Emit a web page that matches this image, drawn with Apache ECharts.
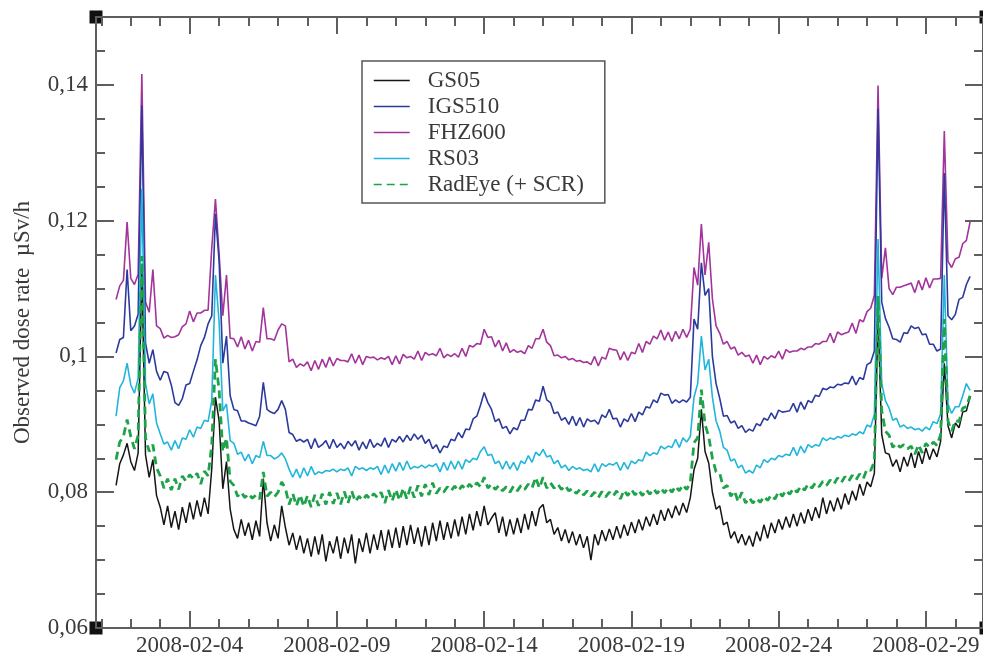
<!DOCTYPE html>
<html>
<head>
<meta charset="utf-8">
<script src="https://cdn.jsdelivr.net/npm/echarts@6/dist/echarts.min.js"></script>
<style>
html,body{margin:0;padding:0;background:#ffffff;}
#chart{width:983px;height:657px;}
</style>
</head>
<body>
<div id="chart"></div>
<script>
// ---- data (observed dose rate, µSv/h), one reading every 3 hours ----
const firstReading = '2008-02-01T12:00:00Z';
const stepHours = 3;
const axisOrigin = '2008-02-01T00:00:00Z';

const seriesNames = ['GS05', 'IGS510', 'FHZ600', 'RS03', 'RadEye (+ SCR)'];

const gs05 = [
  0.0810, 0.0842, 0.0855, 0.0872,
  0.0845, 0.0832, 0.0858, 0.1130, 0.0855, 0.0822, 0.0848, 0.0795,
  0.0778, 0.0752, 0.0780, 0.0748, 0.0772, 0.0745, 0.0778, 0.0755,
  0.0785, 0.0760, 0.0788, 0.0764, 0.0792, 0.0768, 0.0835, 0.0940,
  0.0905, 0.0805, 0.0845, 0.0775, 0.0745, 0.0732, 0.0760, 0.0736,
  0.0755, 0.0730, 0.0758, 0.0735, 0.0820, 0.0755, 0.0728, 0.0752,
  0.0732, 0.0780, 0.0748, 0.0722, 0.0740, 0.0715, 0.0736, 0.0710,
  0.0732, 0.0705, 0.0735, 0.0708, 0.0738, 0.0698, 0.0728, 0.0710,
  0.0735, 0.0702, 0.0733, 0.0710, 0.0738, 0.0695, 0.0732, 0.0712,
  0.0740, 0.0710, 0.0738, 0.0715, 0.0744, 0.0714, 0.0745, 0.0718,
  0.0748, 0.0718, 0.0750, 0.0722, 0.0752, 0.0724, 0.0748, 0.0720,
  0.0750, 0.0722, 0.0755, 0.0728, 0.0758, 0.0730, 0.0756, 0.0732,
  0.0760, 0.0735, 0.0764, 0.0738, 0.0768, 0.0744, 0.0772, 0.0750,
  0.0780, 0.0752, 0.0762, 0.0770, 0.0740, 0.0764, 0.0735, 0.0760,
  0.0738, 0.0762, 0.0740, 0.0768, 0.0745, 0.0772, 0.0750, 0.0776,
  0.0782, 0.0755, 0.0760, 0.0738, 0.0748, 0.0728, 0.0745, 0.0725,
  0.0742, 0.0722, 0.0738, 0.0718, 0.0735, 0.0700, 0.0738, 0.0722,
  0.0744, 0.0728, 0.0746, 0.0730, 0.0750, 0.0732, 0.0752, 0.0736,
  0.0756, 0.0740, 0.0760, 0.0744, 0.0764, 0.0750, 0.0768, 0.0752,
  0.0774, 0.0758, 0.0776, 0.0762, 0.0780, 0.0766, 0.0784, 0.0770,
  0.0792, 0.0833, 0.0850, 0.0922, 0.0860, 0.0843, 0.0800, 0.0775,
  0.0780, 0.0752, 0.0756, 0.0732, 0.0742, 0.0725, 0.0738, 0.0722,
  0.0736, 0.0720, 0.0742, 0.0728, 0.0752, 0.0732, 0.0755, 0.0740,
  0.0760, 0.0745, 0.0764, 0.0748, 0.0768, 0.0750, 0.0770, 0.0754,
  0.0775, 0.0758, 0.0778, 0.0762, 0.0792, 0.0768, 0.0788, 0.0772,
  0.0792, 0.0775, 0.0798, 0.0782, 0.0802, 0.0788, 0.0812, 0.0795,
  0.0815, 0.0808, 0.0828, 0.1060, 0.0885, 0.0858, 0.0856, 0.0838,
  0.0848, 0.0830, 0.0852, 0.0838, 0.0858, 0.0836, 0.0860, 0.0842,
  0.0865, 0.0848, 0.0864, 0.0852, 0.0875, 0.0990, 0.0898, 0.0880,
  0.0902, 0.0895, 0.0918, 0.0920, 0.0940
];

const igs510 = [
  0.1005, 0.1025, 0.1028, 0.1128,
  0.1038, 0.1045, 0.1062, 0.1370, 0.1020, 0.0990, 0.1010, 0.0978,
  0.0965, 0.0978, 0.0976, 0.0958, 0.0932, 0.0928, 0.0938, 0.0958,
  0.0960, 0.0978, 0.0995, 0.1016, 0.1028, 0.1048, 0.1060, 0.1210,
  0.1140, 0.0990, 0.1030, 0.0942, 0.0922, 0.0920, 0.0905, 0.0905,
  0.0902, 0.0900, 0.0898, 0.0912, 0.0962, 0.0922, 0.0918, 0.0916,
  0.0922, 0.0935, 0.0922, 0.0888, 0.0885, 0.0875, 0.0878, 0.0874,
  0.0878, 0.0864, 0.0879, 0.0866, 0.0870, 0.0876, 0.0864, 0.0878,
  0.0866, 0.0872, 0.0864, 0.0875, 0.0868, 0.0876, 0.0862, 0.0874,
  0.0864, 0.0878, 0.0866, 0.0872, 0.0868, 0.0880, 0.0866, 0.0878,
  0.0874, 0.0882, 0.0874, 0.0884, 0.0876, 0.0886, 0.0878, 0.0884,
  0.0872, 0.0878, 0.0864, 0.0870, 0.0858, 0.0868, 0.0866, 0.0878,
  0.0876, 0.0888, 0.0880, 0.0893, 0.0892, 0.0908, 0.0912, 0.0928,
  0.0947, 0.0932, 0.0922, 0.0904, 0.0908, 0.0894, 0.0897, 0.0886,
  0.0895, 0.0892, 0.0906, 0.0906, 0.0922, 0.0921, 0.0936, 0.0934,
  0.0956, 0.0936, 0.0932, 0.0916, 0.0918, 0.0906, 0.0910, 0.0900,
  0.0912, 0.0898, 0.0910, 0.0896, 0.0908, 0.0904, 0.0906, 0.0900,
  0.0914, 0.0910, 0.0922, 0.0908, 0.0909, 0.0896, 0.0908, 0.0904,
  0.0916, 0.0904, 0.0918, 0.0914, 0.0926, 0.0924, 0.0936, 0.0932,
  0.0946, 0.0943, 0.0944, 0.0931, 0.0936, 0.0932, 0.0936, 0.0933,
  0.0940, 0.1055, 0.1040, 0.1138, 0.1090, 0.1100, 0.1000, 0.0960,
  0.0938, 0.0912, 0.0913, 0.0902, 0.0905, 0.0894, 0.0898, 0.0888,
  0.0893, 0.0890, 0.0901, 0.0898, 0.0909, 0.0906, 0.0917, 0.0908,
  0.0921, 0.0918, 0.0919, 0.0920, 0.0931, 0.0918, 0.0933, 0.0922,
  0.0935, 0.0932, 0.0943, 0.0941, 0.0953, 0.0951, 0.0955, 0.0954,
  0.0959, 0.0958, 0.0961, 0.0960, 0.0971, 0.0958, 0.0969, 0.0966,
  0.0988, 0.0991, 0.1008, 0.1365, 0.1080, 0.1056, 0.1043, 0.1026,
  0.1025, 0.1021, 0.1035, 0.1034, 0.1045, 0.1041, 0.1043, 0.1032,
  0.1033, 0.1018, 0.1018, 0.1008, 0.1011, 0.1270, 0.1060, 0.1054,
  0.1062, 0.1084, 0.1087, 0.1106, 0.1118
];

const fhz600 = [
  0.1084, 0.1104, 0.1112, 0.1198,
  0.1115, 0.1106, 0.1121, 0.1416, 0.1080, 0.1065, 0.1128, 0.1045,
  0.1041, 0.1027, 0.1031, 0.1028, 0.1029, 0.1032, 0.1044, 0.1048,
  0.1067, 0.1051, 0.1064, 0.1064, 0.1068, 0.1068, 0.1160, 0.1232,
  0.1150, 0.1060, 0.1120, 0.1027, 0.1026, 0.1014, 0.1029, 0.1011,
  0.1024, 0.1008, 0.1022, 0.1021, 0.1072, 0.1026, 0.1026, 0.1024,
  0.1039, 0.1048, 0.1045, 0.0992, 0.0996, 0.0984, 0.0989, 0.0986,
  0.0992, 0.0979, 0.0994, 0.0981, 0.0996, 0.0984, 0.0999, 0.0986,
  0.0997, 0.0994, 0.0994, 0.0992, 0.1004, 0.0990, 0.1002, 0.0988,
  0.1000, 0.0998, 0.0999, 0.0995, 0.0998, 0.0996, 0.1000, 0.0988,
  0.1001, 0.0989, 0.1003, 0.0998, 0.1000, 0.0996, 0.1008, 0.0994,
  0.1006, 0.1002, 0.1004, 0.1001, 0.1012, 0.0998, 0.1003, 0.1000,
  0.1004, 0.0999, 0.1012, 0.1000, 0.1016, 0.1014, 0.1019, 0.1018,
  0.1040, 0.1028, 0.1029, 0.1014, 0.1024, 0.1008, 0.1020, 0.1006,
  0.1010, 0.1006, 0.1008, 0.1004, 0.1016, 0.1012, 0.1026, 0.1026,
  0.1040, 0.1021, 0.1016, 0.1001, 0.1002, 0.0998, 0.1000, 0.0995,
  0.0997, 0.0993, 0.0994, 0.0991, 0.0992, 0.0988, 0.1000, 0.0986,
  0.0999, 0.0996, 0.1012, 0.1010, 0.1009, 0.0995, 0.1007, 0.0994,
  0.1006, 0.1004, 0.1019, 0.1006, 0.1022, 0.1018, 0.1030, 0.1026,
  0.1039, 0.1024, 0.1036, 0.1022, 0.1037, 0.1026, 0.1040, 0.1028,
  0.1040, 0.1131, 0.1105, 0.1195, 0.1120, 0.1168, 0.1085, 0.1045,
  0.1034, 0.1018, 0.1022, 0.1011, 0.1014, 0.1002, 0.1006, 0.1000,
  0.1002, 0.0990, 0.1002, 0.0988, 0.1000, 0.0996, 0.1001, 0.0998,
  0.1008, 0.0996, 0.1010, 0.1006, 0.1008, 0.1008, 0.1012, 0.1010,
  0.1014, 0.1014, 0.1019, 0.1018, 0.1022, 0.1022, 0.1034, 0.1020,
  0.1036, 0.1032, 0.1034, 0.1036, 0.1049, 0.1034, 0.1054, 0.1051,
  0.1066, 0.1071, 0.1090, 0.1399, 0.1115, 0.1160, 0.1100, 0.1091,
  0.1102, 0.1102, 0.1104, 0.1106, 0.1108, 0.1094, 0.1112, 0.1098,
  0.1116, 0.1101, 0.1114, 0.1114, 0.1115, 0.1332, 0.1140, 0.1131,
  0.1144, 0.1146, 0.1166, 0.1171, 0.1198
];

const rs03 = [
  0.0912, 0.0954, 0.0964, 0.0990,
  0.0958, 0.0946, 0.0968, 0.1247, 0.0960, 0.0930, 0.0945, 0.0902,
  0.0886, 0.0871, 0.0874, 0.0862, 0.0876, 0.0864, 0.0880, 0.0878,
  0.0892, 0.0881, 0.0896, 0.0894, 0.0906, 0.0904, 0.0935, 0.1120,
  0.1050, 0.0920, 0.0930, 0.0876, 0.0872, 0.0856, 0.0859, 0.0846,
  0.0856, 0.0842, 0.0854, 0.0851, 0.0875, 0.0854, 0.0854, 0.0849,
  0.0852, 0.0858, 0.0849, 0.0834, 0.0822, 0.0834, 0.0821, 0.0836,
  0.0824, 0.0838, 0.0826, 0.0830, 0.0828, 0.0832, 0.0831, 0.0834,
  0.0830, 0.0834, 0.0832, 0.0836, 0.0824, 0.0838, 0.0834, 0.0836,
  0.0832, 0.0836, 0.0834, 0.0838, 0.0826, 0.0840, 0.0828, 0.0842,
  0.0831, 0.0844, 0.0832, 0.0846, 0.0834, 0.0838, 0.0836, 0.0840,
  0.0836, 0.0840, 0.0838, 0.0842, 0.0830, 0.0844, 0.0832, 0.0846,
  0.0834, 0.0846, 0.0834, 0.0848, 0.0844, 0.0850, 0.0848, 0.0860,
  0.0867, 0.0854, 0.0856, 0.0842, 0.0846, 0.0834, 0.0846, 0.0834,
  0.0844, 0.0832, 0.0846, 0.0842, 0.0854, 0.0844, 0.0859, 0.0854,
  0.0863, 0.0852, 0.0854, 0.0842, 0.0847, 0.0836, 0.0840, 0.0832,
  0.0838, 0.0834, 0.0836, 0.0832, 0.0834, 0.0830, 0.0842, 0.0830,
  0.0842, 0.0838, 0.0842, 0.0840, 0.0844, 0.0832, 0.0844, 0.0834,
  0.0846, 0.0842, 0.0848, 0.0846, 0.0859, 0.0854, 0.0858, 0.0856,
  0.0868, 0.0864, 0.0868, 0.0866, 0.0878, 0.0866, 0.0880, 0.0874,
  0.0882, 0.0940, 0.0960, 0.1030, 0.0980, 0.0996, 0.0940, 0.0905,
  0.0890, 0.0866, 0.0862, 0.0846, 0.0849, 0.0836, 0.0840, 0.0828,
  0.0832, 0.0828, 0.0840, 0.0836, 0.0848, 0.0844, 0.0850, 0.0848,
  0.0854, 0.0852, 0.0856, 0.0854, 0.0866, 0.0854, 0.0868, 0.0858,
  0.0870, 0.0866, 0.0870, 0.0868, 0.0880, 0.0876, 0.0880, 0.0878,
  0.0882, 0.0880, 0.0884, 0.0882, 0.0886, 0.0884, 0.0889, 0.0886,
  0.0899, 0.0896, 0.0915, 0.1173, 0.0960, 0.0935, 0.0924, 0.0906,
  0.0909, 0.0896, 0.0899, 0.0894, 0.0896, 0.0892, 0.0894, 0.0890,
  0.0896, 0.0892, 0.0904, 0.0901, 0.0915, 0.1120, 0.0930, 0.0916,
  0.0926, 0.0926, 0.0942, 0.0960, 0.0950
];

const radEye = [
  0.0848, 0.0874, 0.0882, 0.0907,
  0.0882, 0.0864, 0.0884, 0.1148, 0.0880, 0.0860, 0.0870, 0.0836,
  0.0824, 0.0806, 0.0820, 0.0803, 0.0820, 0.0804, 0.0824, 0.0816,
  0.0826, 0.0820, 0.0828, 0.0812, 0.0831, 0.0824, 0.0870, 0.0996,
  0.0950, 0.0860, 0.0880, 0.0816, 0.0810, 0.0794, 0.0800, 0.0792,
  0.0798, 0.0791, 0.0796, 0.0790, 0.0830, 0.0794, 0.0800, 0.0793,
  0.0800, 0.0815, 0.0806, 0.0782, 0.0798, 0.0780, 0.0796, 0.0779,
  0.0795, 0.0778, 0.0796, 0.0780, 0.0798, 0.0782, 0.0800, 0.0783,
  0.0799, 0.0782, 0.0801, 0.0784, 0.0802, 0.0786, 0.0794, 0.0788,
  0.0796, 0.0790, 0.0798, 0.0792, 0.0800, 0.0784, 0.0803, 0.0787,
  0.0804, 0.0788, 0.0806, 0.0790, 0.0808, 0.0792, 0.0810, 0.0794,
  0.0812, 0.0796, 0.0814, 0.0798, 0.0806, 0.0800, 0.0808, 0.0802,
  0.0809, 0.0802, 0.0810, 0.0804, 0.0812, 0.0806, 0.0814, 0.0808,
  0.0822, 0.0806, 0.0812, 0.0804, 0.0810, 0.0802, 0.0808, 0.0800,
  0.0809, 0.0802, 0.0810, 0.0804, 0.0812, 0.0806, 0.0822, 0.0806,
  0.0822, 0.0806, 0.0814, 0.0806, 0.0812, 0.0804, 0.0810, 0.0802,
  0.0806, 0.0798, 0.0804, 0.0796, 0.0802, 0.0794, 0.0800, 0.0792,
  0.0801, 0.0793, 0.0800, 0.0794, 0.0802, 0.0790, 0.0803, 0.0795,
  0.0804, 0.0796, 0.0803, 0.0795, 0.0804, 0.0797, 0.0805, 0.0798,
  0.0806, 0.0799, 0.0807, 0.0800, 0.0809, 0.0802, 0.0811, 0.0804,
  0.0814, 0.0873, 0.0880, 0.0951, 0.0900, 0.0882, 0.0850, 0.0830,
  0.0828, 0.0806, 0.0810, 0.0794, 0.0802, 0.0786, 0.0800, 0.0784,
  0.0792, 0.0784, 0.0791, 0.0785, 0.0794, 0.0788, 0.0796, 0.0790,
  0.0801, 0.0794, 0.0803, 0.0797, 0.0806, 0.0800, 0.0809, 0.0803,
  0.0812, 0.0806, 0.0814, 0.0808, 0.0816, 0.0810, 0.0818, 0.0812,
  0.0821, 0.0814, 0.0823, 0.0816, 0.0825, 0.0818, 0.0827, 0.0820,
  0.0834, 0.0832, 0.0845, 0.1089, 0.0920, 0.0890, 0.0884, 0.0866,
  0.0872, 0.0866, 0.0870, 0.0864, 0.0868, 0.0856, 0.0870, 0.0858,
  0.0872, 0.0866, 0.0874, 0.0869, 0.0885, 0.1055, 0.0905, 0.0890,
  0.0906, 0.0904, 0.0924, 0.0926, 0.0942
];

// ---- axis ticks ----
const xTickLabels = ['2008-02-04', '2008-02-09', '2008-02-14', '2008-02-19', '2008-02-24', '2008-02-29'];
const yTickValues = [0.06, 0.08, 0.1, 0.12, 0.14];
const yTickLabels = ['0,06', '0,08', '0,1', '0,12', '0,14'];
const yMinorTickValues = [0.065, 0.07, 0.075, 0.085, 0.09, 0.095, 0.105, 0.11, 0.115, 0.125, 0.13, 0.135, 0.145];
const yName = 'Observed dose rate  \u00b5Sv/h';

// ---- layout / style ----
const gridLeft = 96, gridTop = 17, gridWidth = 890, gridHeight = 611;
const xMin = -0.1814, xMax = 29.939;   // days since 2008-02-01
const yMin = 0.06, yMax = 0.15;
const colors = ['#151515', '#2c3a9c', '#a2349c', '#22b5dc', '#1fa34a'];
const serif = 'Liberation Serif, Times New Roman, serif';
const axisColor = '#5e5e5e';
const textColor = '#3a3a3a';

const DAY = 86400000;
const origin = Date.parse(axisOrigin);
const x0 = (Date.parse(firstReading) - origin) / DAY;
const toPoints = vals => vals.map((v, i) => [x0 + i * stepHours / 24, v]);
const dayOf = s => (Date.parse(s + 'T00:00:00Z') - origin) / DAY;
const xMajor = xTickLabels.map(dayOf);
const xMinor = [];
for (let d = Math.ceil(xMin); d <= Math.floor(xMax); d++) xMinor.push(d);

function nearestLabel(values, labels, v) {
  let best = 0;
  for (let i = 1; i < values.length; i++) {
    if (Math.abs(values[i] - v) < Math.abs(values[best] - v)) best = i;
  }
  return labels[best];
}

function xAxisDef(position, major, showLine, showLabel) {
  return {
    type: 'value', position: position, min: xMin, max: xMax,
    axisLine: { show: showLine, onZero: false, lineStyle: { color: axisColor, width: 2 } },
    axisTick: {
      show: true, inside: true, customValues: major ? xMajor : xMinor,
      length: major ? 17 : 9, lineStyle: { color: axisColor, width: 2 }
    },
    axisLabel: {
      show: showLabel, customValues: xMajor, margin: 6,
      fontFamily: serif, fontSize: 23, color: textColor,
      formatter: v => nearestLabel(xMajor, xTickLabels, v)
    },
    splitLine: { show: false }
  };
}

function yAxisDef(position, major, showLine, showLabel, withName) {
  const def = {
    type: 'value', position: position, min: yMin, max: yMax,
    axisLine: { show: showLine, onZero: false, lineStyle: { color: axisColor, width: 2 } },
    axisTick: {
      show: true, inside: true, customValues: major ? yTickValues : yMinorTickValues,
      length: major ? 18 : 9, lineStyle: { color: axisColor, width: 2 }
    },
    axisLabel: {
      show: showLabel, customValues: yTickValues, margin: 8,
      fontFamily: serif, fontSize: 23, color: textColor,
      formatter: v => nearestLabel(yTickValues, yTickLabels, v)
    },
    splitLine: { show: false }
  };
  if (withName) {
    def.name = yName;
    def.nameLocation = 'middle';
    def.nameGap = 62;
    def.nameTextStyle = { fontFamily: serif, fontSize: 23, color: textColor };
  }
  return def;
}

const seriesValues = [gs05, igs510, fhz600, rs03, radEye];
const zOrder = [5, 3, 2, 4, 6];

const chart = echarts.init(document.getElementById('chart'), null, { renderer: 'canvas' });
chart.setOption({
  animation: false,
  backgroundColor: '#ffffff',
  grid: { left: gridLeft, top: gridTop, width: gridWidth, height: gridHeight, containLabel: false },
  xAxis: [
    xAxisDef('bottom', true, true, true),
    xAxisDef('bottom', false, false, false),
    xAxisDef('top', true, true, false),
    xAxisDef('top', false, false, false)
  ],
  yAxis: [
    yAxisDef('left', true, true, true, true),
    yAxisDef('left', false, false, false, false),
    yAxisDef('right', true, true, false, false),
    yAxisDef('right', false, false, false, false)
  ],
  legend: {
    data: seriesNames,
    orient: 'vertical',
    left: 362, top: 61,
    backgroundColor: '#ffffff',
    borderColor: '#555555', borderWidth: 1.5,
    padding: [8, 21, 7, 11],
    itemWidth: 36, itemHeight: 14, itemGap: 3,
    itemStyle: { opacity: 0 },
    lineStyle: { width: 1.5 },
    textStyle: { fontFamily: serif, fontSize: 23, color: textColor, lineHeight: 22, padding: [0, 0, 0, 13] },
    selectedMode: false
  },
  graphic: [
    { type: 'rect', shape: { x: gridLeft - 6.5, y: gridTop - 6.5, width: 13, height: 13 }, style: { fill: '#111' } },
    { type: 'rect', shape: { x: gridLeft - 6.5, y: gridTop + gridHeight - 6.5, width: 13, height: 13 }, style: { fill: '#111' } },
    { type: 'rect', shape: { x: gridLeft + gridWidth - 6.5, y: gridTop - 6.5, width: 13, height: 13 }, style: { fill: '#111' } },
    { type: 'rect', shape: { x: gridLeft + gridWidth - 6.5, y: gridTop + gridHeight - 6.5, width: 13, height: 13 }, style: { fill: '#111' } }
  ],
  series: seriesNames.map((name, i) => ({
    name: name,
    type: 'line',
    xAxisIndex: 0, yAxisIndex: 0,
    data: toPoints(seriesValues[i]),
    symbol: 'none',
    z: zOrder[i],
    color: colors[i],
    lineStyle: i === 4
      ? { color: colors[i], width: 2.8, type: [8, 5] }
      : { color: colors[i], width: i === 0 ? 1.5 : 1.6 },
    clip: true
  }))
});
</script>
</body>
</html>
